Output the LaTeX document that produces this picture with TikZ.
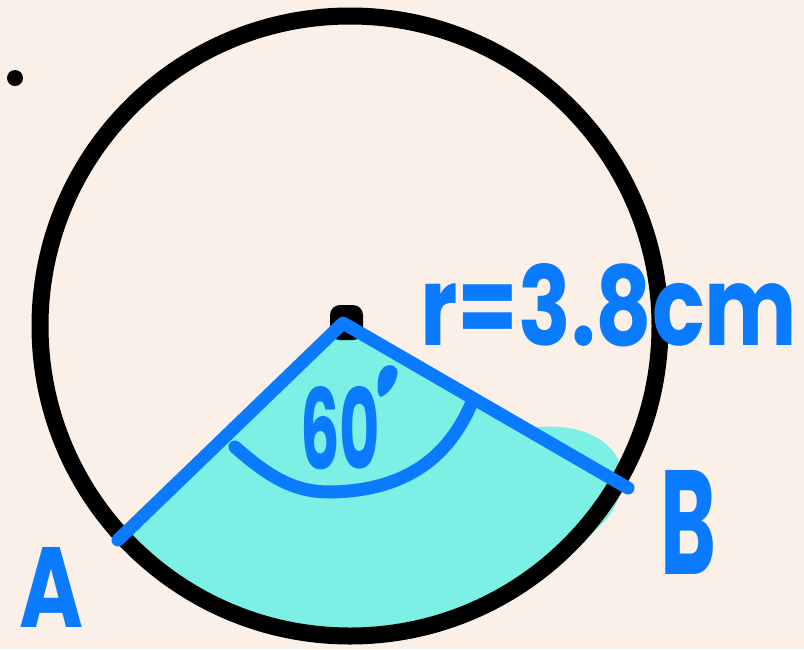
\documentclass[tikz,border=0pt]{standalone}
\usepackage{fontspec}
\setmainfont{Poppins}
\usetikzlibrary{calc}
\definecolor{bg}{HTML}{FBF0E7}
\definecolor{pen}{HTML}{0A7BFF}
\definecolor{sector}{HTML}{7DF0E6}
\begin{document}
\begin{tikzpicture}[x=1pt,y=-1pt,
  penline/.style={draw=pen,line width=13pt,line cap=round,line join=round},
  lbl/.style={text=pen,inner sep=0pt,font=\bfseries}]
\fill[bg] (0,0) rectangle (804,649);
\useasboundingbox (0,0) rectangle (804,649);
\coordinate (C) at (350,326);
\coordinate (O) at (343,323);
\coordinate (A) at (118,540);
\coordinate (B) at (628,488);
% shaded sector
\fill[sector] (O) -- ($(C)+(137.3:310)$) arc[start angle=137.3,end angle=30.2,radius=310] -- cycle;
\fill[sector] (530,428) .. controls (585,420) and (625,445) .. (622,482)
  .. controls (619,512) and (600,530) .. (570,548) -- cycle;
% circle
\draw[line width=17pt] (C) circle[radius=310];
% centre dot and stray dot
\fill[rounded corners=10pt] (330,305) rectangle (363,340);
\fill (15,78) circle[radius=8];
% radii
\draw[penline] (A) -- (O) -- (B);
% angle mark
\coordinate (m1) at (235,447);
\coordinate (m2) at (330,492);
\coordinate (m3) at (472,402);
\draw[penline] (m1) .. controls (270,478) and (295,492) .. (m2)
  .. controls (400,491) and (447,462) .. (m3);
% labels
\node[lbl,anchor=south west] (ang) at (300,470) {\resizebox{80pt}{83pt}{60}};
\fill[pen] (384,367) .. controls (392,362) and (400,368) .. (397,376)
  .. controls (395,385) and (389,393) .. (381,397)
  .. controls (376,395) and (377,380) .. (380,372) -- cycle;
\node[lbl,anchor=south west] (r) at (420,347) {\resizebox{377pt}{82pt}{r=3.8cm}};
\node[lbl,anchor=south west] (la) at (19,628) {\resizebox{64pt}{80pt}{A}};
\node[lbl,anchor=south west] (lb) at (660,575) {\resizebox{56pt}{104pt}{B}};
\end{tikzpicture}
\end{document}
